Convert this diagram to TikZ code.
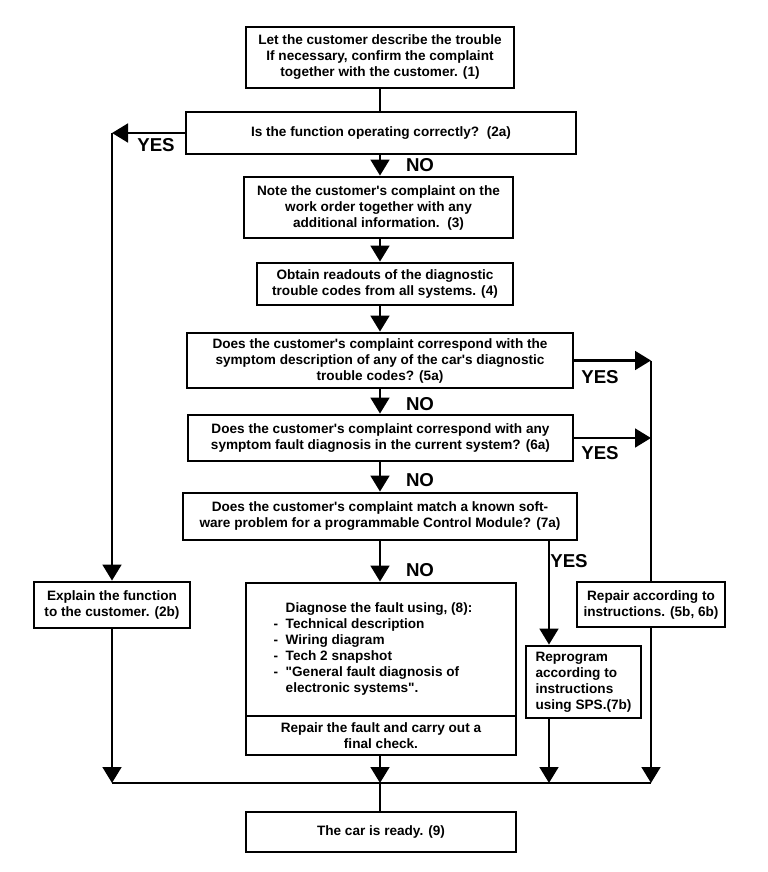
\documentclass[tikz,border=0pt]{standalone}
\usepackage{fontspec}
\setmainfont{Liberation Sans}[Ligatures=TeXOff]
\usepackage{tikz}
\usetikzlibrary{arrows.meta}
\newcommand{\bxfont}{\fontsize{10.2}{12}\selectfont\bfseries}
\newcommand{\lbfont}{\fontsize{14}{14}\selectfont\bfseries}
\tikzset{
  % Base box
  BX/.style={rectangle,draw,line width=2.1pt,fill=white,
             align=center,inner sep=1.5pt,font=\bxfont},
  % Arrow and plain line
  arr/.style={-{Triangle[width=14pt,length=12pt]},line width=2.1pt},
  ln/.style={line width=2.1pt},
  % YES / NO labels
  LB/.style={font=\lbfont,inner sep=0pt}
}

\begin{document}
\begin{tikzpicture}[x=0.75pt,y=-0.75pt]
  \useasboundingbox (0,0) rectangle (768,872);
  % lanes
  \coordinate (cx) at (380,0);
  \coordinate (lx) at (112,0);
  \coordinate (yx) at (549,0);
  \coordinate (rx) at (651,0);
  \coordinate (bot) at (0,783);
  % main column
  \node[BX,minimum width=201pt,minimum height=45.75pt] (b1) at (380,57.5)
    {Let the customer describe the trouble\\If necessary, confirm the complaint\\together with the customer. (1)};
  \node[BX,minimum width=292.5pt,minimum height=31.5pt] (b2a) at (381,133)
    {Is the function operating correctly?\ \ (2a)};
  \node[BX,minimum width=201.75pt,minimum height=45.75pt] (b3) at (378.5,207.5)
    {Note the customer's complaint on the\\work order together with any\\additional information.\ \ (3)};
  \node[BX,minimum width=192pt,minimum height=31.5pt] (b4) at (385,284)
    {Obtain readouts of the diagnostic\\trouble codes from all systems. (4)};
  \node[BX,minimum width=289.5pt,minimum height=41.25pt] (b5a) at (380,360.5)
    {Does the customer's complaint correspond with the\\symptom description of any of the car's diagnostic\\trouble codes? (5a)};
  \node[BX,minimum width=288.75pt,minimum height=34.5pt] (b6a) at (380.5,438)
    {Does the customer's complaint correspond with any\\symptom fault diagnosis in the current system? (6a)};
  \node[BX,minimum width=295.5pt,minimum height=35.25pt] (b7a) at (380,516.5)
    {Does the customer's complaint match a known soft-\\ware problem for a programmable Control Module? (7a)};
  % outcomes
  \node[BX,minimum width=117pt,minimum height=34.5pt] (b2b) at (112,605)
    {Explain the function\\to the customer. (2b)};
  \node[BX,minimum width=202.5pt,minimum height=99.75pt] (b8) at (381,649.5)
    {\begin{tabular}{@{}l@{\ \ }l@{}}
      & Diagnose the fault using, (8):\\
     -& Technical description\\
     -& Wiring diagram\\
     -& Tech 2 snapshot\\
     -& "General fault diagnosis of\\
      & electronic systems".
     \end{tabular}\hspace*{12pt}};
  \node[BX,minimum width=202.5pt,minimum height=29.25pt] (b8r) at (381,735.5)
    {Repair the fault and carry out a\\final check.};
  \node[BX,align=left,minimum width=86.25pt,minimum height=54pt] (b7b) at (583.5,682)
    {Reprogram\\according to\\instructions\\using SPS.(7b)};
  \node[BX,minimum width=111pt,minimum height=33.75pt] (b5b) at (651,604.5)
    {Repair according to\\instructions. (5b, 6b)};
  \node[BX,minimum width=202.5pt,minimum height=30pt] (b9) at (381,832)
    {The car is ready. (9)};
  % labels
  \node[LB] (yes2) at (156,145) {YES};
  \node[LB] (no2) at (420,165) {NO};
  \node[LB] (yes5) at (600,377) {YES};
  \node[LB] (no5) at (420,404) {NO};
  \node[LB] (yes6) at (600,453) {YES};
  \node[LB] (no6) at (420,480) {NO};
  \node[LB] (yes7) at (569,561) {YES};
  \node[LB] (no7) at (420,570) {NO};
  % main flow
  \draw[ln](b1.south -| cx)--(b2a.north -| cx);
  \draw[arr](b2a.south -| cx)--(b3.north -| cx);
  \draw[arr](b3.south -| cx)--(b4.north -| cx);
  \draw[arr](b4.south -| cx)--(b5a.north -| cx);
  \draw[arr](b5a.south -| cx)--(b6a.north -| cx);
  \draw[arr](b6a.south -| cx)--(b7a.north -| cx);
  \draw[arr](b7a.south -| cx)--(b8.north -| cx);
  % yes branches
  \draw[arr](b2a.west)--(b2a.west -| lx);
  \draw[arr](b2a.west -| lx)--(b2b.north);
  \draw[arr](b5a.east)--(b5a.east -| rx);
  \draw[arr](b6a.east)--(b6a.east -| rx);
  \draw[ln](b5a.east -| rx)--(b5b.north);
  \draw[arr](b7a.south -| yx)--(b7b.north -| yx);
  % merge
  \draw[arr](b2b.south)--(b2b.south |- bot);
  \draw[arr](b8r.south -| cx)--(cx |- bot);
  \draw[arr](b7b.south -| yx)--(yx |- bot);
  \draw[arr](b5b.south)--(b5b.south |- bot);
  \draw[ln](b2b.south |- bot)--(b5b.south |- bot);
  \draw[ln](cx |- bot)--(b9.north -| cx);
\end{tikzpicture}
\end{document}
